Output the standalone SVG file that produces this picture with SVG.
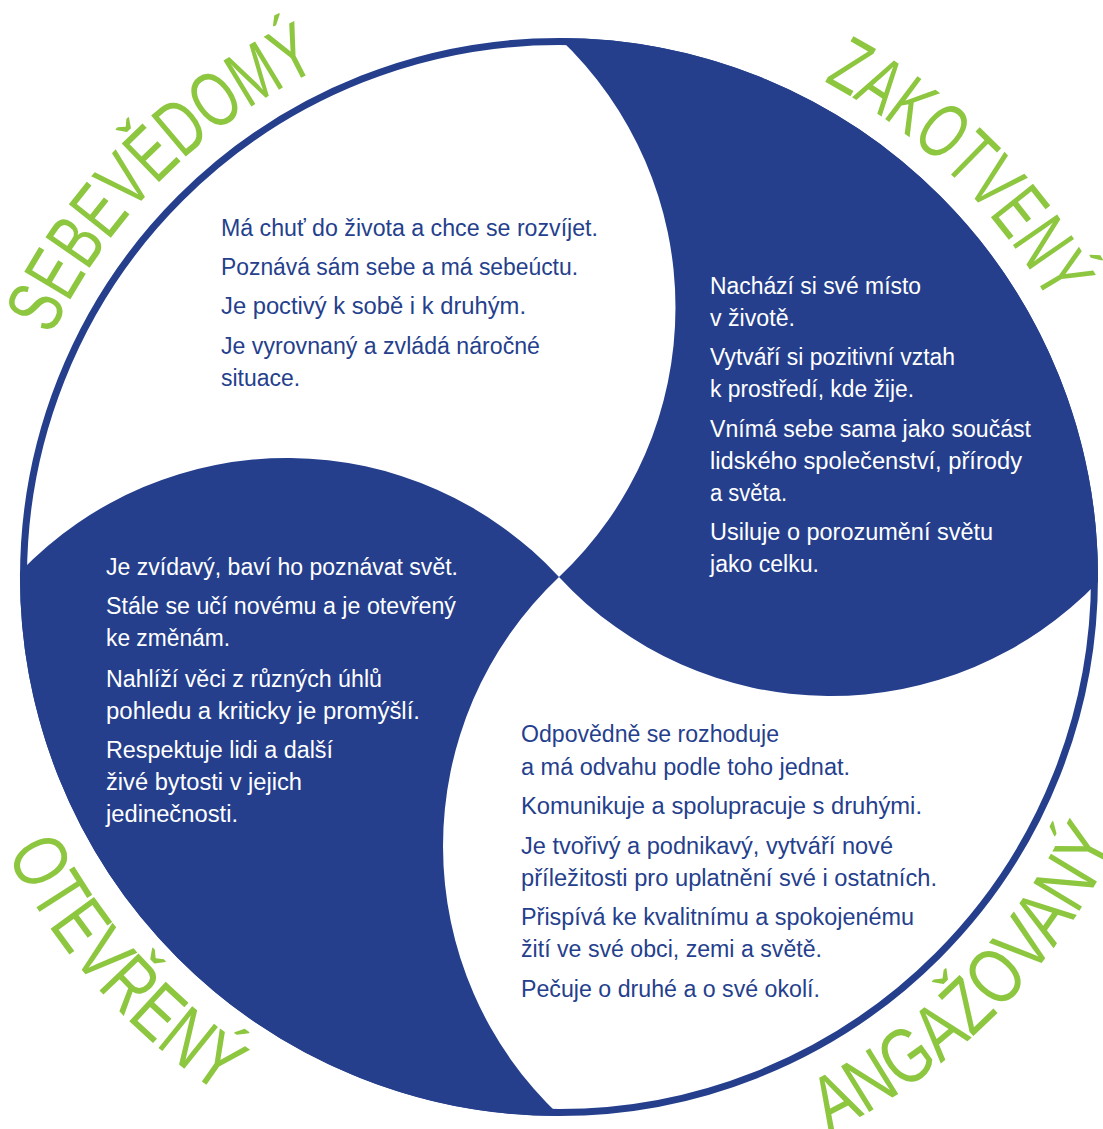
<svg xmlns="http://www.w3.org/2000/svg" width="1103" height="1129" viewBox="0 0 1103 1129">
<defs>
<style>
.bg{fill:#ffffff}
.ring{fill:none;stroke:#253f8d;stroke-width:7}
.blue{fill:#253f8d}
.tb{font-family:"Liberation Sans",Arial,sans-serif;font-size:23px;fill:#253f8d}
.tw{font-family:"Liberation Sans",Arial,sans-serif;font-size:23px;fill:#ffffff}
.lbl{font-family:"Liberation Sans",Arial,sans-serif;font-size:78px;fill:#8dc63f}
</style>
<path id="p-sebe" d="M 51.3,336 A 562,562 0 0 1 319.7,68.5"/>
<path id="p-zako" d="M 823.7,81.3 A 562,562 0 0 1 1050.1,303.7"/>
<path id="p-otev" d="M 6.4,853.7 A 618,618 0 0 0 220.6,1094.1"/>
<path id="p-anga" d="M 828.9,1133 A 618,618 0 0 0 1117.7,841.1"/>
</defs>
<rect class="bg" x="0" y="0" width="1103" height="1129"/>
<g id="connectors">
<circle class="ring" cx="559" cy="577" r="535.5"/>
</g>
<g id="sebevedomy">
<text class="lbl"><textPath href="#p-sebe" textLength="386.5" lengthAdjust="spacingAndGlyphs">SEBEVĚDOMÝ</textPath></text>
<text class="tb" x="221" y="236" textLength="377" lengthAdjust="spacingAndGlyphs">Má chuť do života a chce se rozvíjet.</text>
<text class="tb" x="221" y="275" textLength="357" lengthAdjust="spacingAndGlyphs">Poznává sám sebe a má sebeúctu.</text>
<text class="tb" x="221" y="314" textLength="305" lengthAdjust="spacingAndGlyphs">Je poctivý k sobě i k druhým.</text>
<text class="tb" x="221" y="354" textLength="319" lengthAdjust="spacingAndGlyphs">Je vyrovnaný a zvládá náročné</text>
<text class="tb" x="221" y="386" textLength="79" lengthAdjust="spacingAndGlyphs">situace.</text>
</g>
<g id="zakotveny">
<path class="blue" d="M 559,38 A 370,370 0 0 1 559,577 A 370,370 0 0 0 1098,582 A 539,539 0 0 0 559,38 Z"/>
<text class="lbl"><textPath href="#p-zako" textLength="321.7" lengthAdjust="spacingAndGlyphs">ZAKOTVENÝ</textPath></text>
<text class="tw" x="710" y="294" textLength="211" lengthAdjust="spacingAndGlyphs">Nachází si své místo</text>
<text class="tw" x="710" y="326" textLength="85" lengthAdjust="spacingAndGlyphs">v životě.</text>
<text class="tw" x="710" y="365" textLength="245" lengthAdjust="spacingAndGlyphs">Vytváří si pozitivní vztah</text>
<text class="tw" x="710" y="397" textLength="204" lengthAdjust="spacingAndGlyphs">k prostředí, kde žije.</text>
<text class="tw" x="710" y="437" textLength="321" lengthAdjust="spacingAndGlyphs">Vnímá sebe sama jako součást</text>
<text class="tw" x="710" y="469" textLength="312" lengthAdjust="spacingAndGlyphs">lidského společenství, přírody</text>
<text class="tw" x="710" y="501" textLength="77" lengthAdjust="spacingAndGlyphs">a světa.</text>
<text class="tw" x="710" y="540" textLength="283" lengthAdjust="spacingAndGlyphs">Usiluje o porozumění světu</text>
<text class="tw" x="710" y="572" textLength="109" lengthAdjust="spacingAndGlyphs">jako celku.</text>
</g>
<g id="otevreny">
<path class="blue" d="M 560,1116 A 370,370 0 0 1 559,577 A 370,370 0 0 0 20,572 A 539,539 0 0 0 560,1116 Z"/>
<text class="lbl"><textPath href="#p-otev" textLength="325.7" lengthAdjust="spacingAndGlyphs">OTEVŘENÝ</textPath></text>
<text class="tw" x="106" y="575" textLength="352" lengthAdjust="spacingAndGlyphs">Je zvídavý, baví ho poznávat svět.</text>
<text class="tw" x="106" y="614" textLength="350" lengthAdjust="spacingAndGlyphs">Stále se učí novému a je otevřený</text>
<text class="tw" x="106" y="646" textLength="124" lengthAdjust="spacingAndGlyphs">ke změnám.</text>
<text class="tw" x="106" y="687" textLength="276" lengthAdjust="spacingAndGlyphs">Nahlíží věci z různých úhlů</text>
<text class="tw" x="106" y="719" textLength="314" lengthAdjust="spacingAndGlyphs">pohledu a kriticky je promýšlí.</text>
<text class="tw" x="106" y="758" textLength="227" lengthAdjust="spacingAndGlyphs">Respektuje lidi a další</text>
<text class="tw" x="106" y="790" textLength="196" lengthAdjust="spacingAndGlyphs">živé bytosti v jejich</text>
<text class="tw" x="106" y="822" textLength="132" lengthAdjust="spacingAndGlyphs">jedinečnosti.</text>
</g>
<g id="angazovany">
<text class="lbl"><textPath href="#p-anga" textLength="418.5" lengthAdjust="spacingAndGlyphs">ANGAŽOVANÝ</textPath></text>
<text class="tb" x="521" y="742" textLength="258" lengthAdjust="spacingAndGlyphs">Odpovědně se rozhoduje</text>
<text class="tb" x="521" y="775" textLength="329" lengthAdjust="spacingAndGlyphs">a má odvahu podle toho jednat.</text>
<text class="tb" x="521" y="814" textLength="401" lengthAdjust="spacingAndGlyphs">Komunikuje a spolupracuje s druhými.</text>
<text class="tb" x="521" y="854" textLength="372" lengthAdjust="spacingAndGlyphs">Je tvořivý a podnikavý, vytváří nové</text>
<text class="tb" x="521" y="886" textLength="416" lengthAdjust="spacingAndGlyphs">příležitosti pro uplatnění své i ostatních.</text>
<text class="tb" x="521" y="925" textLength="393" lengthAdjust="spacingAndGlyphs">Přispívá ke kvalitnímu a spokojenému</text>
<text class="tb" x="521" y="957" textLength="301" lengthAdjust="spacingAndGlyphs">žití ve své obci, zemi a světě.</text>
<text class="tb" x="521" y="997" textLength="299" lengthAdjust="spacingAndGlyphs">Pečuje o druhé a o své okolí.</text>
</g>
</svg>
